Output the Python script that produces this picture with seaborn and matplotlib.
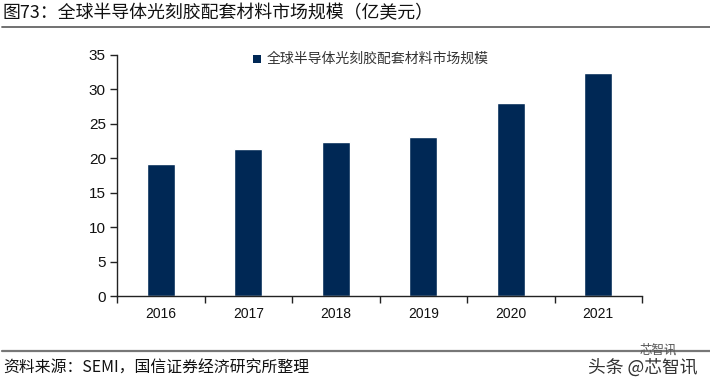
import matplotlib
matplotlib.use("Agg")
import matplotlib.pyplot as plt
from matplotlib.lines import Line2D
from matplotlib.patches import Rectangle
import pandas as pd
import seaborn as sns

years = ["2016", "2017", "2018", "2019", "2020", "2021"]
market_size = [19.2, 21.4, 22.4, 23.1, 28.1, 32.4]
series_name = "全球半导体光刻胶配套材料市场规模"
title_text = "图73\uff1a全球半导体光刻胶配套材料市场规模\uff08亿美元\uff09"
source_text = "资料来源\uff1aSEMI\uff0c国信证券经济研究所整理"
watermark_top = "芯智讯"
watermark_text = "头条 @芯智讯"
y_ticks = [0, 5, 10, 15, 20, 25, 30, 35]

sns.set_theme(style="white")
plt.rcParams["font.family"] = ["Liberation Sans", "Noto Sans CJK SC", "DejaVu Sans"]
W, H = 710, 383
CJK = ["Noto Sans CJK SC", "DejaVu Sans"]
fig = plt.figure(figsize=(W / 100, H / 100), dpi=100, facecolor="white")
ax = fig.add_axes([117 / W, 1 - 296 / H, (642 - 117) / W, (296 - 55) / H])

df = pd.DataFrame({"year": years, "value": market_size})
navy = "#002855"
sns.barplot(data=df, x="year", y="value", color=navy, saturation=1, width=0.32, ax=ax)
ax.set_xlim(-0.5, len(years) - 0.5)
ax.set_ylim(0, 35)
ax.set_xlabel("")
ax.set_ylabel("")
ax.set_yticks(y_ticks)
ax.set_xticks(range(len(years)))
ax.set_xticklabels(years)
ax.set_xticks([i - 0.5 for i in range(len(years) + 1)], minor=True)
ax.tick_params(axis="x", which="major", length=0, pad=8, labelsize=10, colors="#111111")
ax.tick_params(axis="x", which="minor", length=5, width=1, color="#222222", direction="out", bottom=True)
ax.tick_params(axis="y", length=5, width=1, color="#222222", direction="out", left=True, pad=3, labelsize=11, labelcolor="#111111")
for s in ["top", "right"]:
    ax.spines[s].set_visible(False)
for s in ["left", "bottom"]:
    ax.spines[s].set_color("#222222")
    ax.spines[s].set_linewidth(1)

def px(x, y):
    return x / W, 1 - y / H

fig.add_artist(Rectangle(px(252.5, 62.5), 8 / W, 8 / H, transform=fig.transFigure, color=navy, lw=0))
fig.text(*px(267, 58.5), series_name, family=CJK, fontsize=10, color="#333333", va="center", ha="left", fontweight="light")
fig.text(*px(3, 13), title_text, family=CJK, fontsize=12.9, color="#111111", va="center", ha="left")
fig.add_artist(Line2D([2 / W, 1], [1 - 27 / H] * 2, transform=fig.transFigure, color="#666666", lw=1.3))
fig.add_artist(Line2D([2 / W, 1], [1 - 351 / H] * 2, transform=fig.transFigure, color="#777777", lw=1.6))
fig.text(*px(3, 368), source_text, family=CJK, fontsize=11.4, color="#111111", va="center", ha="left")
fig.text(*px(640, 350), watermark_top, family=CJK, fontsize=9, color="#555555", va="center", ha="left")
fig.text(*px(588, 368), watermark_text, family=CJK, fontsize=12.8, color="#333333", va="center", ha="left")
fig.savefig("out.png", dpi=100, facecolor="white")
